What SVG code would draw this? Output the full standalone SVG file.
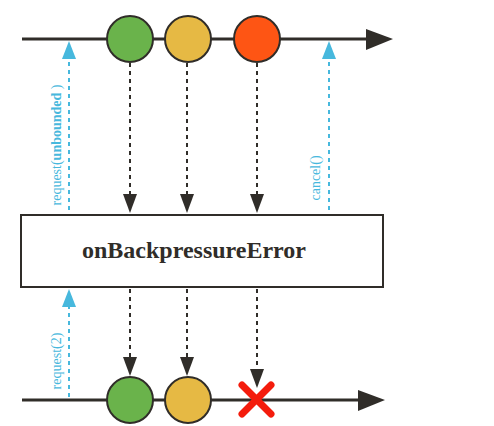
<svg xmlns="http://www.w3.org/2000/svg" width="494" height="426" viewBox="0 0 494 426">
<style>
.axis{stroke:#302d29;stroke-width:3;fill:none}
.dash{stroke:#302d29;stroke-width:2;stroke-dasharray:4 4;fill:none}
.req{stroke:#47b8dd;stroke-width:2;stroke-dasharray:4 4;fill:none}
.marble{stroke:#302d29;stroke-width:2}
.lbl{font-family:"Liberation Serif",serif;font-size:14px;fill:#47b8dd}
</style>
<rect width="494" height="426" fill="#ffffff"/>
<g id="connectors">
<line class="axis" x1="22" y1="39" x2="368" y2="39"/>
<polygon points="366,29 393,39 366,50" fill="#302d29"/>
<line class="axis" x1="22" y1="400" x2="360" y2="400"/>
<polygon points="358,390 385,400 358,411" fill="#302d29"/>
<line class="dash" x1="130" y1="63" x2="130" y2="196"/>
<polygon points="123,194 137,194 130,213" fill="#302d29"/>
<line class="dash" x1="187" y1="63" x2="187" y2="196"/>
<polygon points="180,194 194,194 187,213" fill="#302d29"/>
<line class="dash" x1="257" y1="63" x2="257" y2="196"/>
<polygon points="250,194 264,194 257,213" fill="#302d29"/>
<line class="dash" x1="130" y1="289" x2="130" y2="359"/>
<polygon points="123,357 137,357 130,376" fill="#302d29"/>
<line class="dash" x1="187" y1="289" x2="187" y2="359"/>
<polygon points="180,357 194,357 187,376" fill="#302d29"/>
<line class="dash" x1="257" y1="289" x2="257" y2="371"/>
<polygon points="250,369 264,369 257,388" fill="#302d29"/>
<line class="req" x1="69" y1="210" x2="69" y2="58"/>
<polygon points="62,59 76,59 69,41" fill="#47b8dd"/>
<line class="req" x1="329" y1="210" x2="329" y2="58"/>
<polygon points="322,59 336,59 329,41" fill="#47b8dd"/>
<line class="req" x1="69" y1="397" x2="69" y2="306"/>
<polygon points="62,307 76,307 69,289" fill="#47b8dd"/>
</g>
<g id="top-marbles">
<circle class="marble" cx="130" cy="39" r="23" fill="#6ab34b"/>
<circle class="marble" cx="188" cy="39" r="23" fill="#e6b944"/>
<circle class="marble" cx="257" cy="39" r="23" fill="#fe5514"/>
</g>
<g id="operator">
<rect x="21" y="215" width="362" height="72" fill="#ffffff" stroke="#302d29" stroke-width="2"/>
<text x="194" y="258" text-anchor="middle" font-family="Liberation Serif,serif" font-weight="bold" font-size="24" fill="#302d29">onBackpressureError</text>
</g>
<g id="bottom-marbles">
<circle class="marble" cx="130" cy="400" r="23" fill="#6ab34b"/>
<circle class="marble" cx="188" cy="400" r="23" fill="#e6b944"/>
<g id="error">
<line x1="242" y1="385" x2="271" y2="414" stroke="#f41c0c" stroke-width="7" stroke-linecap="round"/>
<line x1="271" y1="385" x2="242" y2="414" stroke="#f41c0c" stroke-width="7" stroke-linecap="round"/>
</g>
</g>
<g id="labels">
<text class="lbl" transform="translate(61,145) rotate(-90)" text-anchor="middle">request(<tspan font-weight="bold">unbounded</tspan> )</text>
<text class="lbl" transform="translate(320,178) rotate(-90)" text-anchor="middle">cancel()</text>
<text class="lbl" transform="translate(61,361) rotate(-90)" text-anchor="middle">request(2)</text>
</g>
</svg>
